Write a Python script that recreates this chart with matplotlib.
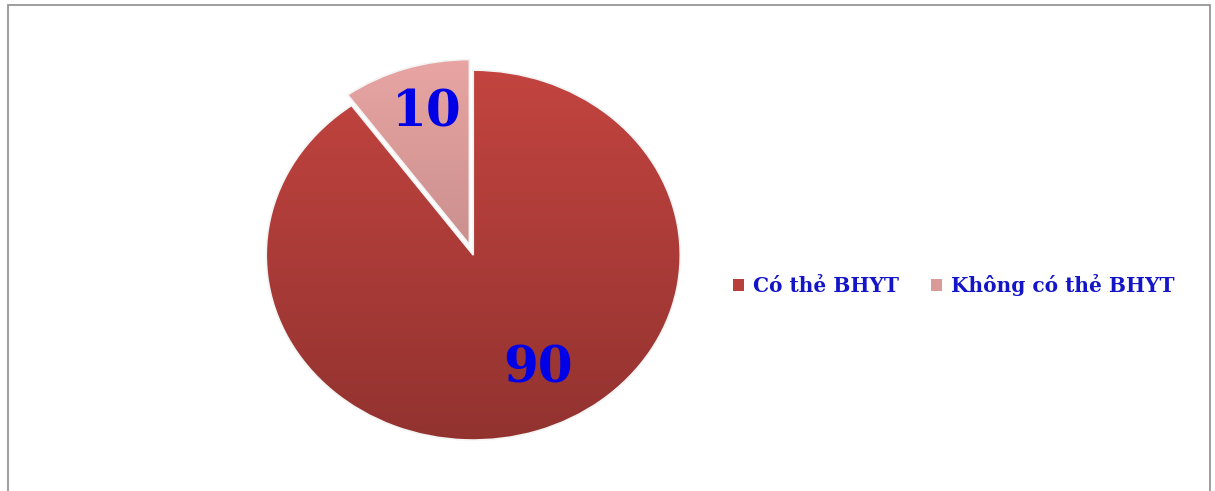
import matplotlib
matplotlib.use('Agg')
import matplotlib.pyplot as plt
import numpy as np
from matplotlib.patches import Rectangle

# Health insurance card ownership (%)
categories = ['Có thẻ BHYT', 'Không có thẻ BHYT']
values = [90, 10]
colors = ['#B8403C', '#D99A98']
explode = [0, 0.06]

# label placement (angle in degrees, radius) for the value texts
label_pos = [(-63, 0.69), (106, 0.74)]

fig = plt.figure(figsize=(12.15, 4.91), dpi=100)
fig.patches.append(Rectangle((8 / 1215, -0.05), 1202 / 1215, 1.05 - 5 / 491,
                             transform=fig.transFigure, fill=False,
                             edgecolor='#8c8c8c', linewidth=1.2))

ax = fig.add_axes([0.168, 0.0285, 0.443, 0.904])
wedges, _ = ax.pie(values, colors=colors, explode=explode, startangle=90,
                   counterclock=False,
                   wedgeprops=dict(edgecolor='#f4f4f4', linewidth=1.2))
ax.set_aspect('auto')
ax.set_xlim(-1.3, 1.3)
ax.set_ylim(-1.2, 1.2)

# soft vertical shading on each wedge
grad = np.linspace(0, 1, 256)
for w, c in zip(wedges, colors):
    base = np.array(matplotlib.colors.to_rgb(c))
    img = np.ones((256, 1, 4))
    img[:, 0, :3] = np.clip(base[None, :] * (0.78 + 0.3 * grad[:, None]), 0, 1)
    im = ax.imshow(img, extent=[-1.3, 1.3, -1.1, 1.15], origin='lower',
                   aspect='auto', zorder=w.get_zorder() + 0.1)
    im.set_clip_path(w)
    w.set_zorder(w.get_zorder() + 0.2)
    w.set_facecolor('none')

for (ang, r), v, w in zip(label_pos, values, wedges):
    cx, cy = w.center
    a = np.deg2rad(ang)
    ax.text(cx + r * np.cos(a), cy + r * np.sin(a), str(v),
            ha='center', va='center', fontsize=36, fontweight='bold',
            family='DejaVu Serif', color='#0000E6', zorder=5)

leg = fig.legend(wedges, categories, loc='center left',
                 bbox_to_anchor=(0.588, 0.42), ncol=2, frameon=False,
                 handlelength=0.55, handleheight=0.55, handletextpad=0.45,
                 columnspacing=1.6,
                 prop=dict(family='DejaVu Serif', weight='bold', size=14.5))
for t in leg.get_texts():
    t.set_color('#1414C8')
for h, c in zip(leg.legend_handles, colors):
    h.set_facecolor(c)
    h.set_edgecolor('none')

fig.savefig('out.png', dpi=100)
